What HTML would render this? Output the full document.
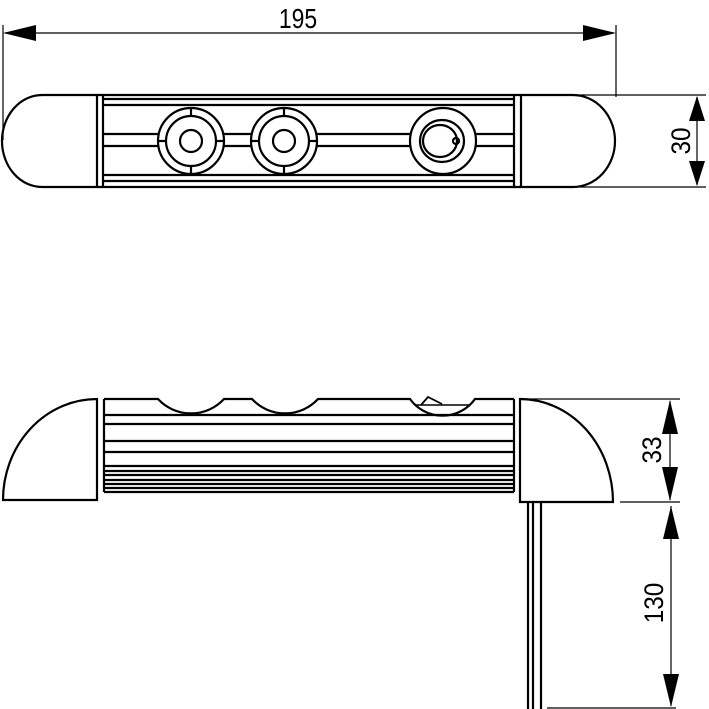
<!DOCTYPE html>
<html><head><style>
html,body{margin:0;padding:0;background:#fff;}
svg{display:block;}
text{font-family:"Liberation Sans",sans-serif;fill:#000;}
</style></head><body>
<svg width="709" height="709" viewBox="0 0 709 709" xmlns="http://www.w3.org/2000/svg">
<g fill="none" stroke="#000" stroke-width="2.2">
<!-- TOP VIEW -->
<path d="M97,95 L42,95 A40,46 0 0 0 42,187 L97,187 Z"/>
<path d="M521,95 L573,95 A42,46 0 0 1 573,187 L521,187"/>
<line x1="97" y1="95" x2="521" y2="95"/>
<line x1="97" y1="187" x2="521" y2="187"/>
<line x1="103" y1="95" x2="103" y2="187"/>
<line x1="514" y1="95" x2="514" y2="187"/>
<line x1="521" y1="95" x2="521" y2="187"/>
<line x1="103" y1="99" x2="514" y2="99"/>
<line x1="103" y1="105" x2="514" y2="105"/>
<line x1="103" y1="175" x2="514" y2="175"/>
<line x1="103" y1="181" x2="514" y2="181"/>
<line x1="103" y1="134" x2="158" y2="134"/><line x1="103" y1="146" x2="158" y2="146"/>
<line x1="224" y1="134" x2="251" y2="134"/><line x1="224" y1="146" x2="251" y2="146"/>
<line x1="317" y1="134" x2="410" y2="134"/><line x1="317" y1="146" x2="410" y2="146"/>
<line x1="476" y1="134" x2="514" y2="134"/><line x1="476" y1="146" x2="514" y2="146"/>
<g>
<circle cx="191" cy="141" r="33" fill="#fff"/><circle cx="191" cy="141" r="25"/><circle cx="191" cy="141" r="11"/>
<line x1="191" y1="108" x2="191" y2="116"/><line x1="191" y1="166" x2="191" y2="174"/>
<line x1="158" y1="141" x2="166" y2="141"/><line x1="216" y1="141" x2="224" y2="141"/>
</g>
<g>
<circle cx="284" cy="141" r="33" fill="#fff"/><circle cx="284" cy="141" r="25"/><circle cx="284" cy="141" r="11"/>
<line x1="284" y1="108" x2="284" y2="116"/><line x1="284" y1="166" x2="284" y2="174"/>
<line x1="251" y1="141" x2="259" y2="141"/><line x1="309" y1="141" x2="317" y2="141"/>
</g>
<circle cx="443" cy="141" r="33" fill="#fff"/>
<ellipse cx="442" cy="141" rx="22" ry="21"/>
<ellipse cx="440" cy="141" rx="17" ry="16"/>
<circle cx="456" cy="141" r="3"/>
<!-- SIDE VIEW -->
<path d="M97,399 A94,101 0 0 0 3,500 L97,500 Z"/>
<path d="M520,399 A93,103 0 0 1 613,502 L520,502 Z"/>
<line x1="104" y1="399" x2="104" y2="492"/>
<line x1="514" y1="399" x2="514" y2="492"/>
<line x1="104" y1="492" x2="514" y2="492"/>
<path d="M104,399 L158,399 A45,45 0 0 0 224,399 L252,399 A45,45 0 0 0 318,399 L410,399 A40,40 0 0 0 475,399 L514,399"/>
<line x1="104" y1="415" x2="514" y2="415"/>
<line x1="104" y1="424" x2="514" y2="424"/>
<line x1="104" y1="441" x2="514" y2="441"/>
<line x1="104" y1="452" x2="514" y2="452"/>
<line x1="104" y1="466" x2="514" y2="466"/>
<line x1="104" y1="471" x2="514" y2="471"/>
<line x1="104" y1="475" x2="514" y2="475"/>
<line x1="104" y1="480" x2="514" y2="480"/>
<line x1="104" y1="484" x2="514" y2="484"/>
<line x1="104" y1="488" x2="514" y2="488"/>
<path d="M421,405 L428,397 L442,404" stroke-width="1.8"/>
<line x1="416" y1="405" x2="469" y2="405" stroke-width="1.5"/>
<!-- wires -->
<line x1="528" y1="502" x2="528" y2="709"/>
<line x1="533" y1="502" x2="533" y2="709"/>
<line x1="541" y1="502" x2="541" y2="709"/>
</g>
<!-- dimensions -->
<g stroke="#000" stroke-width="1.2" fill="none">
<line x1="3" y1="25" x2="3" y2="140"/>
<line x1="616" y1="25" x2="616" y2="97"/>
<line x1="5" y1="33" x2="614" y2="33"/>
<line x1="575" y1="95" x2="706" y2="95"/>
<line x1="575" y1="187" x2="706" y2="187"/>
<line x1="697" y1="97" x2="697" y2="185"/>
<line x1="520" y1="399" x2="680" y2="399"/>
<line x1="620" y1="502" x2="680" y2="502"/>
<line x1="670" y1="401" x2="670" y2="500"/>
<line x1="547" y1="708" x2="676" y2="708"/>
<line x1="671" y1="506" x2="671" y2="706"/>
</g>
<g fill="#000">
<polygon points="3,33 36,25 36,41"/>
<polygon points="616,33 583,25 583,41"/>
<polygon points="697,96 689,121 705,121"/>
<polygon points="697,186 689,161 705,161"/>
<polygon points="670,400 662,434 678,434"/>
<polygon points="670,501 662,467 678,467"/>
<polygon points="671,506 663,539 679,539"/>
<polygon points="671,707 663,674 679,674"/>
</g>
<text x="298" y="28" font-size="28" text-anchor="middle" transform="translate(298,0) scale(0.82,1) translate(-298,0)">195</text>
<text transform="translate(690,141) rotate(-90) scale(0.9,1)" font-size="27" text-anchor="middle">30</text>
<text transform="translate(661,450) rotate(-90) scale(0.9,1)" font-size="27" text-anchor="middle">33</text>
<text transform="translate(663,603) rotate(-90) scale(0.9,1)" font-size="27" text-anchor="middle">130</text>
</svg>
</body></html>
